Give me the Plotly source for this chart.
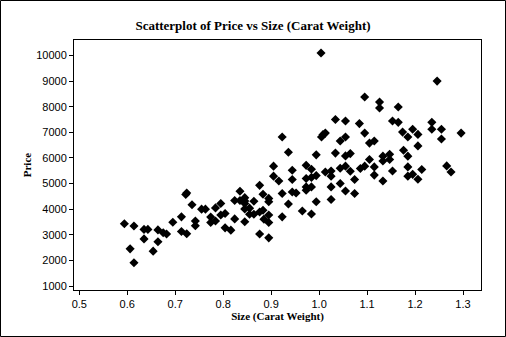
import plotly.graph_objects as go

# Diamond sizes (carat) and prices
carat = [
    0.594, 0.606, 0.614, 0.614, 0.635, 0.643, 0.635, 0.654, 0.664, 0.664,
    0.675, 0.682, 0.695, 0.713, 0.713, 0.724, 0.722, 0.724, 0.735, 0.742,
    0.742, 0.755, 0.763, 0.774, 0.774, 0.784, 0.784, 0.795, 0.795, 0.804,
    0.804, 0.816, 0.824, 0.824, 0.835, 0.835, 0.845, 0.845, 0.845, 0.845,
    0.845, 0.855, 0.855, 0.864, 0.864, 0.876, 0.876, 0.876, 0.883, 0.883,
    0.885, 0.895, 0.895, 0.895, 0.895, 0.895, 0.905, 0.905, 0.916, 0.923,
    0.923, 0.923, 0.936, 0.936, 0.944, 0.944, 0.944, 0.952, 0.965, 0.973,
    0.973, 0.973, 0.973, 0.984, 0.984, 0.984, 0.984, 0.994, 0.994, 0.994,
    1.004, 1.005, 1.008, 1.013, 1.013, 1.025, 1.025, 1.025, 1.025, 1.034,
    1.034, 1.044, 1.044, 1.044, 1.055, 1.055, 1.055, 1.055, 1.055, 1.065,
    1.065, 1.074, 1.074, 1.084, 1.086, 1.095, 1.095, 1.095, 1.105, 1.105,
    1.115, 1.115, 1.115, 1.126, 1.126, 1.133, 1.133, 1.133, 1.147, 1.147,
    1.153, 1.153, 1.165, 1.165, 1.174, 1.176, 1.185, 1.185, 1.185, 1.185,
    1.195, 1.195, 1.206, 1.206, 1.206, 1.214, 1.235, 1.235, 1.246, 1.255,
    1.255, 1.266, 1.275, 1.296,
]
price = [
    3430, 2450, 3340, 1910, 3210, 3210, 2840, 2360, 3190, 2730,
    3080, 3030, 3490, 3700, 3130, 4630, 4570, 3040, 4170, 3540,
    3350, 4000, 4000, 3690, 3480, 3540, 4050, 4220, 3770, 3830,
    3270, 3180, 4340, 3620, 4340, 4700, 4450, 4320, 4220, 4010,
    3510, 4040, 3800, 3800, 4310, 4930, 3030, 3890, 3960, 4580,
    3610, 4420, 4290, 3770, 3480, 2880, 5680, 5290, 5100, 6820,
    4610, 3700, 6220, 4200, 5520, 5160, 4670, 4630, 3930, 5710,
    5200, 4870, 4740, 5560, 5240, 4870, 3810, 6120, 5310, 4290,
    10100, 6820, 6910, 6970, 5450, 5490, 5290, 4870, 4380, 7500,
    6190, 6660, 5600, 5000, 7440, 6820, 6080, 5680, 4710, 6170,
    5480, 5160, 4610, 7340, 5590, 8380, 6970, 5680, 6580, 5940,
    6660, 5650, 5330, 8180, 7950, 6070, 5880, 5100, 6140, 5940,
    7440, 5490, 7990, 7390, 7010, 6300, 6820, 6070, 5650, 5290,
    7120, 5360, 6920, 6470, 5170, 5550, 7390, 7120, 9000, 7120,
    6740, 5690, 5450, 6970,
]

x_ticks = [0.5, 0.6, 0.7, 0.8, 0.9, 1.0, 1.1, 1.2, 1.3]
y_ticks = [1000, 2000, 3000, 4000, 5000, 6000, 7000, 8000, 9000, 10000]

fig = go.Figure(
    go.Scatter(
        x=carat,
        y=price,
        mode="markers",
        marker=dict(symbol="diamond", size=7, color="black", line=dict(width=0)),
        showlegend=False,
    )
)

serif = "Liberation Serif, Times New Roman, serif"
sans = "Liberation Sans, Arial, sans-serif"

axis_common = dict(
    showline=True,
    linecolor="black",
    linewidth=1,
    mirror=True,
    ticks="outside",
    ticklen=4,
    tickwidth=1,
    tickcolor="black",
    showgrid=False,
    zeroline=False,
    tickfont=dict(family=sans, size=11, color="black"),
)

fig.update_layout(
    width=506,
    height=337,
    margin=dict(l=74, r=25, t=40, b=47),
    paper_bgcolor="white",
    plot_bgcolor="white",
    title=dict(
        text="<b>Scatterplot of Price vs Size (Carat Weight)</b>",
        font=dict(family=serif, size=13, color="black"),
        x=0.5,
        xref="container",
        xanchor="center",
        y=1 - 25 / 337,
        yanchor="middle",
    ),
    xaxis=dict(
        axis_common,
        range=[0.489, 1.3375],
        tickvals=x_ticks,
        ticktext=[f"{v:.1f}" for v in x_ticks],
        title=dict(
            text="<b>Size (Carat Weight)</b>",
            font=dict(family=serif, size=11, color="black"),
            standoff=3,
        ),
    ),
    yaxis=dict(
        axis_common,
        range=[844, 10605],
        tickvals=y_ticks,
        ticktext=[str(v) for v in y_ticks],
        title=dict(
            text="<b>Price</b>",
            font=dict(family=serif, size=11, color="black"),
            standoff=2,
        ),
    ),
)

# Thin frame around the whole graphic
pw, ph = 506 - 74 - 25, 337 - 40 - 47
fig.add_shape(
    type="rect",
    xref="paper",
    yref="paper",
    x0=-73.5 / pw,
    x1=(506 - 74 - 0.5) / pw,
    y0=-46.5 / ph,
    y1=(337 - 47 - 0.5) / ph,
    line=dict(color="black", width=1),
    fillcolor="rgba(0,0,0,0)",
    layer="above",
)

fig.write_html("out.html")
